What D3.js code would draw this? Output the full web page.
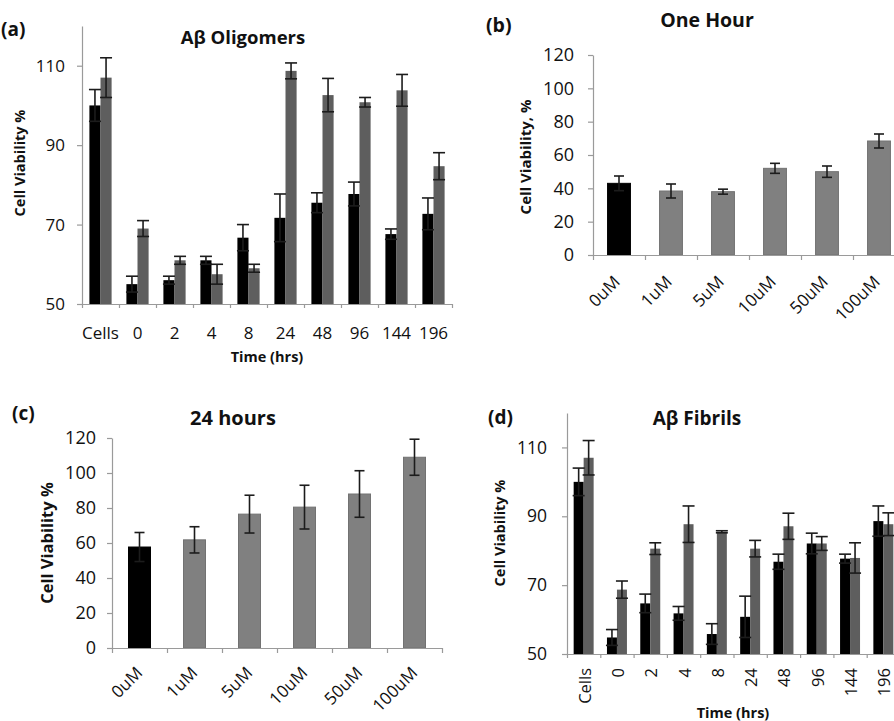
<!DOCTYPE html>
<html>
<head>
<meta charset="utf-8">
<script src="https://cdn.jsdelivr.net/npm/d3@7"></script>
<style>
  body { margin: 0; background: #fff; }
  svg { display: block; }
  text { font-family: "Open Sans", Lato, sans-serif; fill: #111; }
  .axis path, .axis line { stroke: #9a9a9a; stroke-width: 1.2; }
  .axis text { font-family: "Open Sans", Lato, sans-serif; fill: #111; }
  .bold { font-weight: bold; }
</style>
</head>
<body>
<svg id="chart" width="894" height="721"></svg>
<script>
// ---- data ----
var timeCats = ["Cells", "0", "2", "4", "8", "24", "48", "96", "144", "196"];
var doseCats = ["0uM", "1uM", "5uM", "10uM", "50uM", "100uM"];

// (a) A-beta oligomers: black series and grey series, with error
var oligoBlack    = [100, 55, 56, 61, 66.7, 71.7, 75.5, 77.7, 67.6, 72.7];
var oligoBlackErr = [4, 2, 1, 1, 3.3, 6, 2.5, 3, 1.3, 4];
var oligoGrey     = [107, 69, 61, 57.5, 59, 108.7, 102.6, 100.8, 103.8, 84.7];
var oligoGreyErr  = [5, 2, 1, 2.5, 1, 2, 4.2, 1.2, 4, 3.4];

// (d) A-beta fibrils
var fibBlack    = [100, 54.8, 64.7, 61.8, 55.8, 60.8, 76.8, 82.1, 77.7, 88.6];
var fibBlackErr = [4, 2.3, 2.7, 2, 3, 6, 2.2, 3, 1.3, 4.4];
var fibGrey     = [107, 68.7, 80.6, 87.7, 85.5, 80.6, 87.1, 82.1, 77.9, 87.7];
var fibGreyErr  = [5, 2.5, 1.7, 5.3, 0.3, 2.4, 3.8, 2, 4.4, 3.3];

// (b) one hour and (c) 24 hours
var oneHour    = [43, 38.4, 38, 52, 50, 68.4];
var oneHourErr = [4.4, 4.2, 1.5, 3, 3.4, 4.2];
var dayVals    = [57.7, 61.8, 76.5, 80.5, 88, 109];
var dayErr     = [8.3, 7.5, 10.8, 12.5, 13.3, 10.3];

var svg = d3.select("#chart");

// grouped bars (a)/(d)
function pairedPanel(o) {
  var g = svg.append("g");
  var x = d3.scaleBand().domain(o.cats).range([o.x0, o.x1])
    .paddingInner(o.pad).paddingOuter(o.pad / 2);
  var sub = d3.scaleBand().domain([0, 1]).range([0, x.bandwidth()]);
  var y = d3.scaleLinear().domain([50, 120]).range([o.y0, o.y1]);
  var idx = d3.scaleLinear().domain([0, o.cats.length]).range([o.x0, o.x1]);

  var rows = o.cats.map(function(c, i) {
    return [
      { c: c, s: 0, v: o.black[i], e: o.blackErr[i] },
      { c: c, s: 1, v: o.grey[i], e: o.greyErr[i] }
    ];
  });
  var flat = [].concat.apply([], rows);

  g.selectAll(".bar").data(flat).enter().append("rect")
    .attr("x", function(d) { return x(d.c) + sub(d.s); })
    .attr("y", function(d) { return y(d.v); })
    .attr("width", sub.bandwidth())
    .attr("height", function(d) { return y(50) - y(d.v); })
    .attr("fill", function(d) { return d.s ? "#5e5e5e" : "#000"; });

  errorBars(g, flat, function(d) { return x(d.c) + sub(d.s) + sub.bandwidth() / 2; }, y, 6);

  g.append("g").attr("class", "axis")
    .attr("transform", "translate(" + o.x0 + ",0)")
    .call(d3.axisLeft(y).tickValues([50, 70, 90, 110]).tickSize(5).tickPadding(o.tickPad).tickSizeOuter(0))
    .selectAll("text").style("font-size", o.tickFont + "px");
  g.append("g").attr("class", "axis")
    .attr("transform", "translate(0," + o.y0 + ")")
    .call(d3.axisBottom(idx).tickValues(d3.range(o.cats.length + 1)).tickFormat("").tickSize(4).tickSizeOuter(0));

  var lab = g.selectAll(".xl").data(o.cats).enter().append("text")
    .style("font-size", o.xFont + "px")
    .text(function(d) { return d; });
  if (o.vertical) {
    lab.attr("text-anchor", "end")
      .attr("transform", function(d) {
        return "translate(" + (x(d) + x.bandwidth() / 2 + 7) + "," + (o.y0 + 14) + ") rotate(-90)";
      });
  } else {
    lab.attr("text-anchor", "middle")
      .attr("x", function(d) { return x(d) + x.bandwidth() / 2; })
      .attr("y", o.y0 + 35);
  }
  texts(g, o);
}

// single bars (b)/(c)
function dosePanel(o) {
  var g = svg.append("g");
  var x = d3.scaleBand().domain(o.cats).range([o.x0, o.x1])
    .paddingInner(o.pad).paddingOuter(o.pad / 2);
  var y = d3.scaleLinear().domain([0, 120]).range([o.y0, o.y1]);
  var idx = d3.scaleLinear().domain([0, o.cats.length]).range([o.x0, o.x1]);
  var data = o.cats.map(function(c, i) { return { c: c, v: o.vals[i], e: o.errs[i] }; });

  g.selectAll(".bar").data(data).enter().append("rect")
    .attr("x", function(d) { return x(d.c); })
    .attr("y", function(d) { return y(d.v); })
    .attr("width", x.bandwidth())
    .attr("height", function(d) { return y(0) - y(d.v); })
    .attr("fill", function(d, i) { return i ? "#808080" : "#000"; })
    .attr("stroke", function(d, i) { return i ? "#727272" : "#000"; })
    .attr("stroke-width", 1);

  errorBars(g, data, function(d) { return x(d.c) + x.bandwidth() / 2; }, y, 5);

  g.append("g").attr("class", "axis")
    .attr("transform", "translate(" + o.x0 + ",0)")
    .call(d3.axisLeft(y).tickValues(d3.range(0, 121, 20)).tickSize(5).tickPadding(o.tickPad).tickSizeOuter(0))
    .selectAll("text").style("font-size", o.tickFont + "px");
  g.append("g").attr("class", "axis")
    .attr("transform", "translate(0," + o.y0 + ")")
    .call(d3.axisBottom(idx).tickValues(d3.range(o.cats.length + 1)).tickFormat("").tickSize(5).tickSizeOuter(0));

  g.selectAll(".xl").data(o.cats).enter().append("text")
    .style("font-size", o.xFont + "px")
    .attr("text-anchor", "end")
    .attr("transform", function(d) {
      return "translate(" + (x(d) + x.bandwidth() / 2 + o.xShift) + "," + (o.y0 + o.xDrop) + ") rotate(-45)";
    })
    .text(function(d) { return d; });
  texts(g, o);
}

function errorBars(g, data, cx, y, hw) {
  var e = g.selectAll(".err").data(data).enter().append("g")
    .attr("stroke", "#1c1c1c").attr("stroke-width", 1.6);
  e.append("line")
    .attr("x1", cx).attr("x2", cx)
    .attr("y1", function(d) { return y(d.v + d.e); })
    .attr("y2", function(d) { return y(d.v - d.e); });
  [1, -1].forEach(function(sgn) {
    e.append("line")
      .attr("x1", function(d) { return cx(d) - hw; })
      .attr("x2", function(d) { return cx(d) + hw; })
      .attr("y1", function(d) { return y(d.v + sgn * d.e); })
      .attr("y2", function(d) { return y(d.v + sgn * d.e); });
  });
}

function texts(g, o) {
  g.append("text").attr("class", "bold").attr("x", o.tag[0]).attr("y", o.tag[1])
    .style("font-size", o.tagFont + "px").text(o.tagText);
  g.append("text").attr("class", "bold").attr("text-anchor", "middle")
    .attr("x", o.title[0]).attr("y", o.title[1])
    .style("font-size", o.titleFont + "px").text(o.titleText);
  g.append("text").attr("class", "bold").attr("text-anchor", "middle")
    .attr("transform", "translate(" + o.ylab[0] + "," + o.ylab[1] + ") rotate(-90)")
    .style("font-size", o.ylabFont + "px").text(o.ylabText);
  if (o.xlab) {
    g.append("text").attr("class", "bold").attr("text-anchor", "middle")
      .attr("x", o.xlab[0]).attr("y", o.xlab[1])
      .style("font-size", o.xlabFont + "px").text("Time (hrs)");
  }
}

pairedPanel({
  cats: timeCats, black: oligoBlack, blackErr: oligoBlackErr, grey: oligoGrey, greyErr: oligoGreyErr,
  x0: 82, x1: 452, y0: 304, y1: 26, pad: 0.4, tickFont: 17, tickPad: 12, xFont: 17,
  tag: [1, 36], tagText: "(a)", tagFont: 19,
  title: [243, 44], titleText: "Aβ Oligomers", titleFont: 18.5,
  ylab: [25, 163], ylabText: "Cell Viability %", ylabFont: 14.5,
  xlab: [267, 362], xlabFont: 14.5
});

dosePanel({
  cats: doseCats, vals: oneHour, errs: oneHourErr,
  x0: 593, x1: 905, y0: 255, y1: 55, pad: 0.56, tickFont: 18, tickPad: 14, xFont: 17, xDrop: 28, xShift: 2,
  tag: [486, 32], tagText: "(b)", tagFont: 19.5,
  title: [707, 27], titleText: "One Hour", titleFont: 19.5,
  ylab: [531, 157], ylabText: "Cell Viability, %", ylabFont: 15
});

dosePanel({
  cats: doseCats, vals: dayVals, errs: dayErr,
  x0: 112, x1: 442, y0: 648, y1: 438, pad: 0.6, tickFont: 18, tickPad: 11, xFont: 17, xDrop: 26, xShift: 4,
  tag: [12, 420], tagText: "(c)", tagFont: 19,
  title: [233, 425], titleText: "24 hours", titleFont: 20,
  ylab: [53, 543], ylabText: "Cell Viability %", ylabFont: 16.5
});

pairedPanel({
  cats: timeCats, black: fibBlack, blackErr: fibBlackErr, grey: fibGrey, greyErr: fibGreyErr,
  x0: 567, x1: 900, y0: 654, y1: 413, pad: 0.4, vertical: true, tickFont: 17.5, tickPad: 15, xFont: 16.5,
  tag: [488, 424], tagText: "(d)", tagFont: 19,
  title: [697, 425], titleText: "Aβ Fibrils", titleFont: 19,
  ylab: [505, 533], ylabText: "Cell Viability %", ylabFont: 14.5,
  xlab: [733, 718], xlabFont: 14.5
});
</script>
</body>
</html>
